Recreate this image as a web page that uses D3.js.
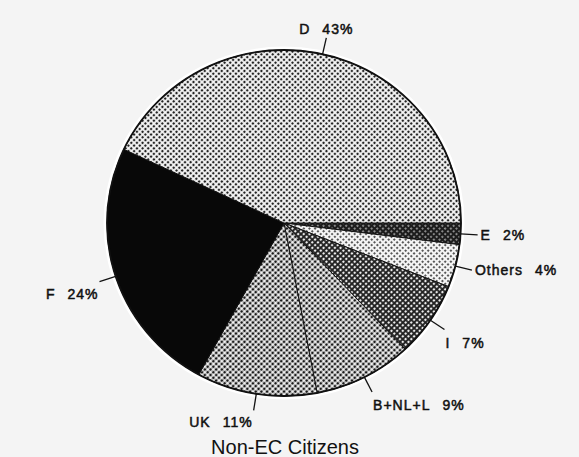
<!DOCTYPE html>
<html>
<head>
<meta charset="utf-8">
<script src="https://cdn.jsdelivr.net/npm/d3@7"></script>
<style>
    body{ margin: 0; background: #f4f4f4; }
    .lbl{ font-family: "Liberation Sans", Arial, sans-serif; font-size: 14px; letter-spacing: 1px; fill: #111; stroke: #111; stroke-width: 0.5px; }
    .title{ font-family: "Liberation Sans", Arial, sans-serif; font-size: 20px; fill: #111; }
</style>
</head>
<body>
<div class="graph"></div>
<script>
// data, clockwise from 3 o'clock
const names = ["E", "Others", "I", "B+NL+L", "UK", "F", "D"];
const shares = [2, 4, 7, 9, 11, 24, 43];
const title = "Non-EC Citizens";

const width = 579, height = 457;
const cx = 284, cy = 223, rx = 177, ry = 173;
const k = ry / rx;
const leader = 17;

//halftone look for each slice: [background, dot colour, dot radius]
const tone = {
    "E": ["#1c1c1c", "#f2f2f2", 0.85],
    "Others": ["#f4f4f4", "#222", 1.0],
    "I": ["#202020", "#f0f0f0", 1.2],
    "B+NL+L": ["#f4f4f4", "#1a1a1a", 1.45],
    "UK": ["#f4f4f4", "#1a1a1a", 1.45],
    "F": ["#080808", "#080808", 0],
    "D": ["#f6f6f6", "#222", 1.25]
};

const svg = d3.select(".graph").append("svg")
    .attr("width", width)
    .attr("height", height);

//patterns
const defs = svg.append("defs");
names.forEach(function(n, i){
    const p = defs.append("pattern")
        .attr("id", "pat" + i)
        .attr("patternUnits", "userSpaceOnUse")
        .attr("width", 4)
        .attr("height", 4)
        .attr("patternTransform", "rotate(45)");
    p.append("rect").attr("width", 4).attr("height", 4).attr("fill", tone[n][0]);
    if(tone[n][2] > 0){
        p.append("circle").attr("cx", 2).attr("cy", 2).attr("r", tone[n][2]).attr("fill", tone[n][1]);
    }
});

const pie = d3.pie()
    .sort(null)
    .startAngle(Math.PI / 2)
    .endAngle(Math.PI / 2 + 2 * Math.PI);

const arcs = pie(shares);

const arc = d3.arc()
    .innerRadius(0)
    .outerRadius(rx);

//white halo + slices
const g = svg.append("g")
    .attr("transform", "translate(" + cx + "," + cy + ") scale(1," + k + ")");

g.append("circle")
    .attr("r", rx + 1.5)
    .attr("fill", "none")
    .attr("stroke", "#fff")
    .attr("stroke-width", 4);

g.selectAll(".slice")
    .data(arcs)
    .enter().append("path")
    .attr("class", "slice")
    .attr("d", arc)
    .attr("fill", function(d, i){ return "url(#pat" + i + ")"; })
    .attr("stroke", "#111")
    .attr("stroke-width", 1);

g.append("circle")
    .attr("r", rx)
    .attr("fill", "none")
    .attr("stroke", "#111")
    .attr("stroke-width", 1.8);

//point on the ellipse at angle a, distance r
function pt(a, r){
    return [cx + Math.sin(a) * r, cy - Math.cos(a) * r * k];
}

const labels = svg.append("g");

arcs.forEach(function(d, i){
    const a = (d.startAngle + d.endAngle) / 2;
    const p0 = pt(a, rx);
    const p1 = pt(a, rx + leader);

    labels.append("line")
        .attr("x1", p0[0]).attr("y1", p0[1])
        .attr("x2", p1[0]).attr("y2", p1[1])
        .attr("stroke", "#111")
        .attr("stroke-width", 1.3);

    let deg = a * 180 / Math.PI % 360;
    let x = p1[0], y = p1[1], anchor = "start";
    if(deg < 30 || deg > 330){
        anchor = "middle"; y = p1[1] - 4;
    }else if(deg < 110){
        x = p1[0] + 3; y = p1[1] + 5;
    }else if(deg < 180){
        x = p1[0] + 1; y = p1[1] + 18;
    }else{
        anchor = "end"; x = p1[0] - 1; y = p1[1] + 17;
    }

    const t = labels.append("text")
        .attr("class", "lbl")
        .attr("x", x)
        .attr("y", y)
        .attr("text-anchor", anchor);
    t.append("tspan").text(names[i]);
    t.append("tspan").attr("dx", 12).text(shares[i] + "%");
});

svg.append("text")
    .attr("class", "title")
    .attr("x", 285)
    .attr("y", 454)
    .attr("text-anchor", "middle")
    .text(title);
</script>
</body>
</html>
